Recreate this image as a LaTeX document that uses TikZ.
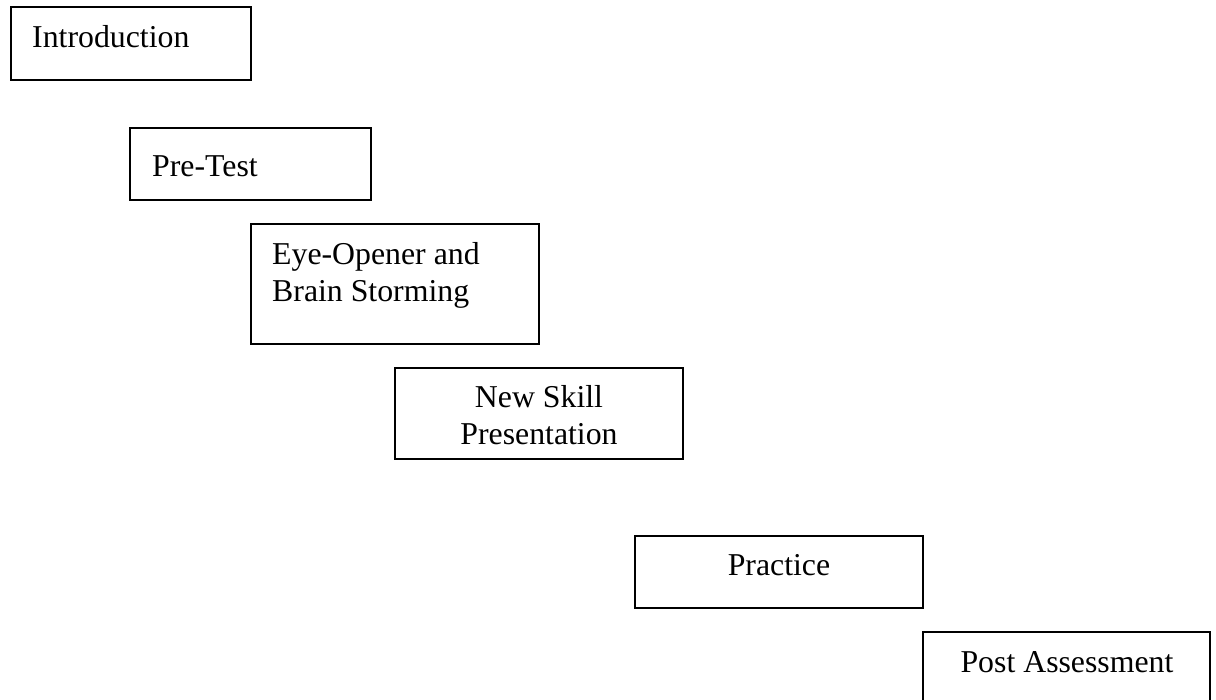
\documentclass[tikz,border=0pt]{standalone}
\usepackage{fontspec}
\setmainfont{Liberation Serif}
\begin{document}
\begin{tikzpicture}[x=1pt,y=-1pt,
  stagebox/.style={draw=black,line width=1.8pt,inner sep=0pt,rectangle},
  lbl/.style={inner sep=0pt,font=\fontsize{31.8}{37}\selectfont}]
\useasboundingbox (0,0) rectangle (1216,700);
% boxes
\node[stagebox,minimum width=240pt,minimum height=73pt] (b1) at (131,43.5) {};
\node[stagebox,minimum width=241pt,minimum height=72pt] (b2) at (250.5,164) {};
\node[stagebox,minimum width=288pt,minimum height=120pt] (b3) at (395,284) {};
\node[stagebox,minimum width=288pt,minimum height=91pt] (b4) at (539,413.5) {};
\node[stagebox,minimum width=288pt,minimum height=72pt] (b5) at (779,572) {};
\node[stagebox,minimum width=287pt,minimum height=76pt] (b6) at (1066.5,670) {};
% texts
\node[lbl,anchor=base west] (t1) at (32,48) {Introduction};
\node[lbl,anchor=base west] (t2) at (152,177) {Pre-Test};
\node[lbl,anchor=base west] (t3a) at (272,265) {Eye-Opener and};
\node[lbl,anchor=base west] (t3b) at (272,302) {Brain Storming};
\node[lbl,anchor=base] (t4a) at (539,408) {New Skill};
\node[lbl,anchor=base] (t4b) at (539,445) {Presentation};
\node[lbl,anchor=base] (t5) at (779,575) {Practice};
\node[lbl,anchor=base] (t6) at (1067,672) {Post Assessment};
\end{tikzpicture}
\end{document}
